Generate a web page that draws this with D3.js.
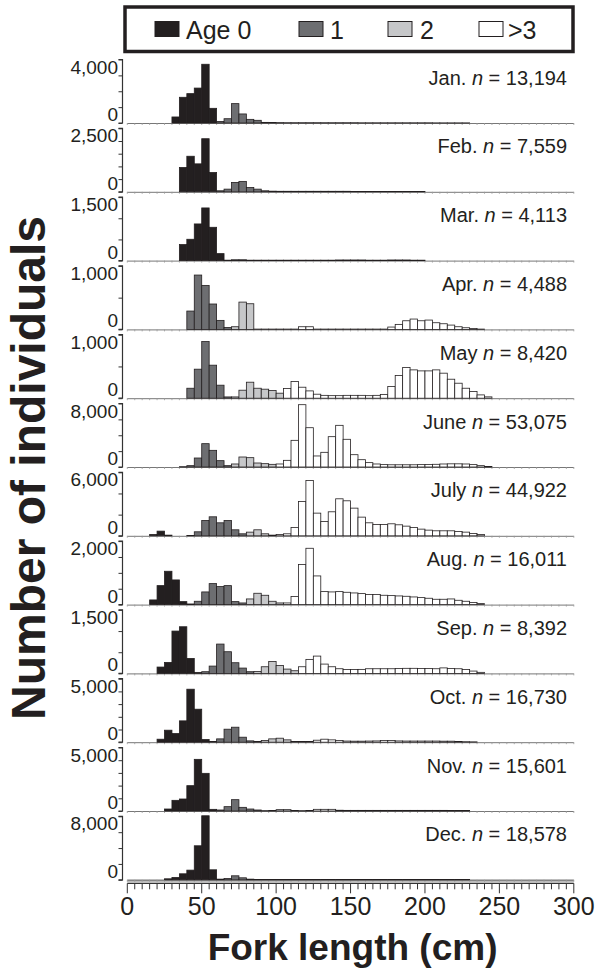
<!DOCTYPE html>
<html>
<head>
<meta charset="utf-8">
<script src="https://cdn.jsdelivr.net/npm/d3@7"></script>
<style>
  html, body { margin: 0; padding: 0; background: #fff; }
  svg { display: block; font-family: "Liberation Sans", Arial, sans-serif; }
</style>
</head>
<body>
<svg id="chart" width="599" height="971"></svg>
<script>
// ---------------- DATA ----------------
// Fork length bins: 5 cm wide, starting at 0 cm (bin k covers [5k, 5k+5))
const binWidth = 5;
const months = ["Jan.", "Feb.", "Mar.", "Apr.", "May", "June", "July", "Aug.", "Sep.", "Oct.", "Nov.", "Dec."];
const sampleSizes = ["13,194", "7,559", "4,113", "4,488", "8,420", "53,075", "44,922", "16,011", "8,392", "16,730", "15,601", "18,578"];
const yMax = [4000, 2500, 1500, 1000, 1000, 8000, 6000, 2000, 1500, 5000, 5000, 8000];
const yStep = [1000, 500, 500, 500, 500, 2000, 2000, 500, 500, 1000, 1000, 2000];
const ageClasses = ["Age 0", "1", "2", ">3"];

// counts per 5-cm bin (index = bin number)
const janCounts = [0,0,0,0,0,0,380,1620,1850,2200,3700,925,100,270,1220,570,230,170,40,30,25,20,20,20,20,20,20,20,20,20,20,15,15,15,15,15,15,15,15,15,15,10,10,10,10,10];
const febCounts = [0,0,0,0,0,0,0,958,1400,1100,2090,760,40,105,370,410,170,105,40,25,20,20,20,20,20,20,20,20,20,20,15,15,15,15,15,15,15,15,15,15];
const marCounts = [0,0,0,0,0,0,0,378,504,866,1244,787,165,10,20,20,10,10,10,10,10,10,10,10,10,10,10,10,15,15,15,15,10,10,10,15,15,15,10,10];
const aprCounts = [0,0,0,0,0,0,0,0,289,856,693,400,142,31,42,430,404,5,5,5,5,5,5,42,42,5,5,5,5,5,5,5,5,5,5,37,79,136,163,136,147,105,89,68,42,26,15,5];
const mayCounts = [0,0,0,0,0,0,0,0,157,457,892,520,205,20,20,126,252,157,142,121,79,152,262,173,115,63,45,40,40,45,45,45,40,45,60,184,357,483,446,430,430,446,394,299,236,157,105,52,21];
const junCounts = [0,0,0,0,0,0,0,40,170,1134,2940,2100,800,170,380,1260,1176,504,420,336,380,840,3360,7850,4950,1390,1850,3820,5250,3490,1550,920,550,380,300,280,280,280,280,300,320,340,380,400,400,380,300,170,60];
const julCounts = [0,0,0,126,441,63,0,0,30,378,1449,1795,1228,1449,567,189,346,567,189,63,126,189,787,3244,5228,2142,1354,2268,3496,3307,2614,1764,1228,1071,1071,1134,1039,913,787,630,535,472,472,472,409,346,220,126];
const augCounts = [0,0,0,147,598,1050,777,94,20,105,399,661,567,598,94,52,178,357,294,105,52,52,252,1260,1774,903,409,399,409,388,367,346,315,315,294,283,273,262,241,220,200,168,168,178,136,105,63,31];
const sepCounts = [0,0,0,0,150,260,1000,1102,354,24,40,173,693,512,252,126,40,47,157,283,189,102,63,157,331,409,220,157,110,90,90,95,110,110,110,110,115,120,120,115,115,110,130,115,110,90,55,25];
const octCounts = [0,0,0,0,236,945,682,1680,4173,2598,210,50,262,1024,1181,394,105,50,131,262,315,184,50,50,60,157,236,184,131,90,80,80,90,100,130,130,100,90,90,90,90,90,80,80,60,40,30];
const novCounts = [0,0,0,0,0,157,840,945,1995,4068,2966,131,79,341,892,289,157,79,30,40,105,105,40,30,40,131,131,131,60,50,50,50,50,50,50,50,50,50,50,50,50,50,50,40,40,40];
const decCounts = [0,0,0,0,0,126,294,756,1218,4286,8067,1260,84,168,504,252,84,40,40,40,40,40,40,40,40,40,40,40,40,40,40,40,40,40,40,40,40,40,40,40,40,40,40,40,40,40];

// first bin index of age 1, age 2 and age >3 in each month
const ageCuts = [[12,19,26],[12,19,26],[13,19,26],[0,14,17],[0,14,21],[0,14,20],[8,16,20],[8,16,21],[10,17,23],[11,18,22],[12,18,23],[13,20,25]];

const xTicks = [0, 50, 100, 150, 200, 250, 300];

// ---------------- LAYOUT ----------------
const allCounts = [janCounts, febCounts, marCounts, aprCounts, mayCounts, junCounts, julCounts, augCounts, sepCounts, octCounts, novCounts, decCounts];
const ageFill = ["#231f20", "#6d6e71", "#c6c7c9", "#ffffff"];
const ink = "#231f20";

const svg = d3.select("#chart");
const x = d3.scaleLinear().domain([0, 300]).range([127.3, 573.8]);
const firstBase = 123, panelStep = 68.8, axisH = 63.5, yAxisX = 122.5;

function ageOf(m, k) {
  const c = ageCuts[m];
  return k < c[0] ? 0 : k < c[1] ? 1 : k < c[2] ? 2 : 3;
}

allCounts.forEach((counts, m) => {
  const base = firstBase + panelStep * m;
  const y = d3.scaleLinear().domain([0, yMax[m]]).range([base, base - axisH]);
  const g = svg.append("g");

  // baseline with small 5-cm ticks
  g.append("line").attr("x1", x(0)).attr("x2", x(300)).attr("y1", base + 0.5).attr("y2", base + 0.5)
    .attr("stroke", "#777").attr("stroke-width", 1);
  g.selectAll("line.mt").data(d3.range(0, 301, 5)).join("line")
    .attr("x1", d => x(d)).attr("x2", d => x(d)).attr("y1", base).attr("y2", base + 2)
    .attr("stroke", "#999").attr("stroke-width", 0.8);

  // bars
  const bars = counts.map((v, k) => ({ k, v })).filter(d => d.v > 0);
  g.selectAll("rect").data(bars).join("rect")
    .attr("x", d => x(d.k * binWidth))
    .attr("width", x(binWidth) - x(0))
    .attr("y", d => y(d.v))
    .attr("height", d => base - y(d.v))
    .attr("fill", d => ageFill[ageOf(m, d.k)])
    .attr("stroke", ink).attr("stroke-width", 0.8);

  // y axis
  const yAxis = d3.axisLeft(y).tickValues(d3.range(0, yMax[m] + 1, yStep[m])).tickSize(4).tickFormat("");
  const ya = g.append("g").attr("transform", `translate(${yAxisX},0)`).call(yAxis);
  ya.select(".domain").attr("stroke", "#333").attr("stroke-width", 1.2).attr("d", `M-4,${base - axisH}H0V${base}H-4`);
  ya.selectAll(".tick line").attr("stroke", "#333").attr("stroke-width", 1);

  // y labels: top and 0
  g.append("text").attr("x", 118).attr("y", base - axisH + 14).attr("text-anchor", "end")
    .attr("font-size", 19).attr("fill", ink).text(d3.format(",")(yMax[m]));
  g.append("text").attr("x", 118).attr("y", base - 2).attr("text-anchor", "end")
    .attr("font-size", 19).attr("fill", ink).text("0");

  // month label
  const t = g.append("text").attr("x", 567).attr("y", base - 38.5).attr("text-anchor", "end")
    .attr("font-size", 20).attr("fill", ink);
  t.append("tspan").text(months[m] + " ");
  t.append("tspan").attr("font-style", "italic").text("n");
  t.append("tspan").text(" = " + sampleSizes[m]);
});

// x axis
const lastBase = firstBase + panelStep * 11;
const xAxisY = lastBase + 3.5;
const minor = d3.range(0, 301, 5);
svg.append("g").selectAll("line").data(minor).join("line")
  .attr("x1", d => x(d)).attr("x2", d => x(d))
  .attr("y1", xAxisY).attr("y2", d => xAxisY + (d % 50 === 0 ? 10 : 6))
  .attr("stroke", "#333").attr("stroke-width", 1);
svg.append("line").attr("x1", x(0)).attr("x2", x(300)).attr("y1", xAxisY).attr("y2", xAxisY)
  .attr("stroke", "#333").attr("stroke-width", 1.2);
svg.append("rect").attr("x", x(0)).attr("y", lastBase - 0.5).attr("width", x(300) - x(0)).attr("height", 3)
  .attr("fill", "#bbb").lower();
svg.append("g").selectAll("text").data(xTicks).join("text")
  .attr("x", d => x(d)).attr("y", 915).attr("text-anchor", "middle")
  .attr("font-size", 25).attr("fill", ink).text(d => d);

svg.append("text").attr("x", x(150) + 2).attr("y", 960).attr("text-anchor", "middle")
  .attr("font-size", 37).attr("font-weight", "bold").attr("fill", ink).text("Fork length (cm)");

svg.append("text").attr("transform", "translate(45,468) rotate(-90)").attr("text-anchor", "middle")
  .attr("font-size", 48).attr("font-weight", "bold").attr("fill", ink).text("Number of individuals");

// legend
const lg = svg.append("g");
lg.append("rect").attr("x", 125).attr("y", 7).attr("width", 448).attr("height", 44.5)
  .attr("fill", "#fff").attr("stroke", ink).attr("stroke-width", 3.5);
const swX = [155, 299, 388, 479];
const txX = [186, 330, 420, 508];
ageClasses.forEach((a, i) => {
  lg.append("rect").attr("x", swX[i]).attr("y", 21.5).attr("width", 24).attr("height", 15)
    .attr("fill", ageFill[i]).attr("stroke", ink).attr("stroke-width", 1);
  lg.append("text").attr("x", txX[i]).attr("y", 38.5).attr("font-size", 25).attr("fill", ink).text(a);
});
</script>
</body>
</html>
